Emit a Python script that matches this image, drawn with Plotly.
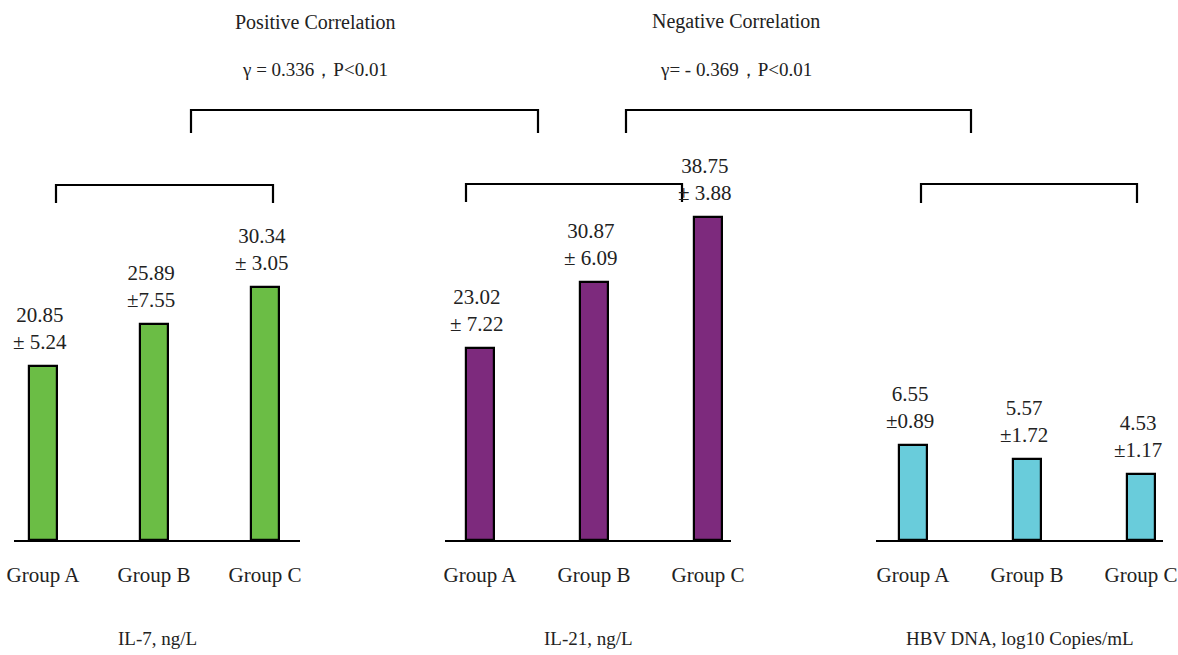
import plotly.graph_objects as go

groups = ["Group A", "Group B", "Group C"]
il7_mean = [20.85, 25.89, 30.34]
il7_sd = [5.24, 7.55, 3.05]
il21_mean = [23.02, 30.87, 38.75]
il21_sd = [7.22, 6.09, 3.88]
hbv_mean = [6.55, 5.57, 4.53]
hbv_sd = [0.89, 1.72, 1.17]
il7_sd_text = ["± 5.24", "±7.55", "± 3.05"]
il21_sd_text = ["± 7.22", "± 6.09", "± 3.88"]
hbv_sd_text = ["±0.89", "±1.72", "±1.17"]
panel_titles = ["IL-7, ng/L", "IL-21, ng/L", "HBV DNA, log10 Copies/mL"]
corr_titles = ["Positive Correlation", "Negative Correlation"]
corr_stats = ["γ = 0.336，P<0.01", "γ= - 0.369，P<0.01"]

W, H = 1178, 655
FONT = "Liberation Serif"
colors = ["#6BBD45", "#7D2A7D", "#69CCDB"]
means = [il7_mean, il21_mean, hbv_mean]
sd_texts = [il7_sd_text, il21_sd_text, hbv_sd_text]

def px(x):
    return x / W

def py(y):
    return 1 - y / H

base = py(540)
domains = [(px(14), px(300)), (px(445), px(731)), (px(876), px(1163))]
xranges = [(-0.261, 2.315), (-0.307, 2.202), (-0.325, 2.193)]
yranges = [(0, 64.7), (0, 64.7), (0, 37.2)]

fig = go.Figure()
for i in range(3):
    sfx = "" if i == 0 else str(i + 1)
    fig.add_trace(go.Bar(
        x=groups, y=means[i], width=0.25,
        marker=dict(color=colors[i], line=dict(color="black", width=2.2)),
        xaxis="x" + sfx, yaxis="y" + sfx, showlegend=False, hoverinfo="skip",
    ))
    fig.layout["xaxis" + sfx] = dict(
        domain=list(domains[i]), range=list(xranges[i]), anchor="y" + sfx,
        showline=True, linecolor="black", linewidth=2.2, ticks="",
        showgrid=False, zeroline=False, ticklabelstandoff=15, automargin=False,
        tickfont=dict(family=FONT, size=21, color="#222"),
    )
    fig.layout["yaxis" + sfx] = dict(
        domain=[base, 1], range=list(yranges[i]), anchor="x" + sfx,
        visible=False, showgrid=False, zeroline=False, automargin=False,
    )
    for g, m, s in zip(groups, means[i], sd_texts[i]):
        fig.add_annotation(
            x=g, y=m, xref="x" + sfx, yref="y" + sfx,
            text=f"{m:.2f}<br>{s}", showarrow=False,
            yanchor="bottom", yshift=10, xshift=-3,
            font=dict(family=FONT, size=21, color="#222"),
        )

# bottom panel titles
for (d0, d1), t in zip(domains, panel_titles):
    cx = (d0 + d1) / 2
    fig.add_annotation(x=cx, y=py(638), xref="paper", yref="paper", text=t,
                       showarrow=False, yanchor="middle", xanchor="center",
                       font=dict(family=FONT, size=19, color="#222"))

# correlation labels
for cx, t, s in zip([px(315), px(736)], corr_titles, corr_stats):
    fig.add_annotation(x=cx, y=py(22), xref="paper", yref="paper", text=t,
                       showarrow=False, yanchor="middle", xanchor="center",
                       font=dict(family=FONT, size=20, color="#222"))
    fig.add_annotation(x=cx, y=py(70), xref="paper", yref="paper", text=s,
                       showarrow=False, yanchor="middle", xanchor="center",
                       font=dict(family=FONT, size=19, color="#222"))

def bracket(x0, x1, ytop, ybot):
    path = f"M {px(x0)},{py(ybot)} L {px(x0)},{py(ytop)} L {px(x1)},{py(ytop)} L {px(x1)},{py(ybot)}"
    fig.add_shape(type="path", path=path, xref="paper", yref="paper",
                  line=dict(color="black", width=2.2))

bracket(56, 273, 185, 203)
bracket(466, 682, 184, 202)
bracket(921, 1137, 184, 203)
bracket(191, 538, 110, 133)
bracket(626, 971, 110, 133)

fig.update_layout(
    width=W, height=H,
    margin=dict(l=0, r=0, t=0, b=0, pad=0, autoexpand=False),
    paper_bgcolor="white", plot_bgcolor="white", bargap=0,
)
fig.write_html(
    "out.html",
    config={"displayModeBar": False},
    post_script=(
        "document.body.style.margin='0';"
        "document.body.style.overflow='hidden';"
        "Plotly.Plots.resize(document.getElementById('{plot_id}'));"
    ),
)
